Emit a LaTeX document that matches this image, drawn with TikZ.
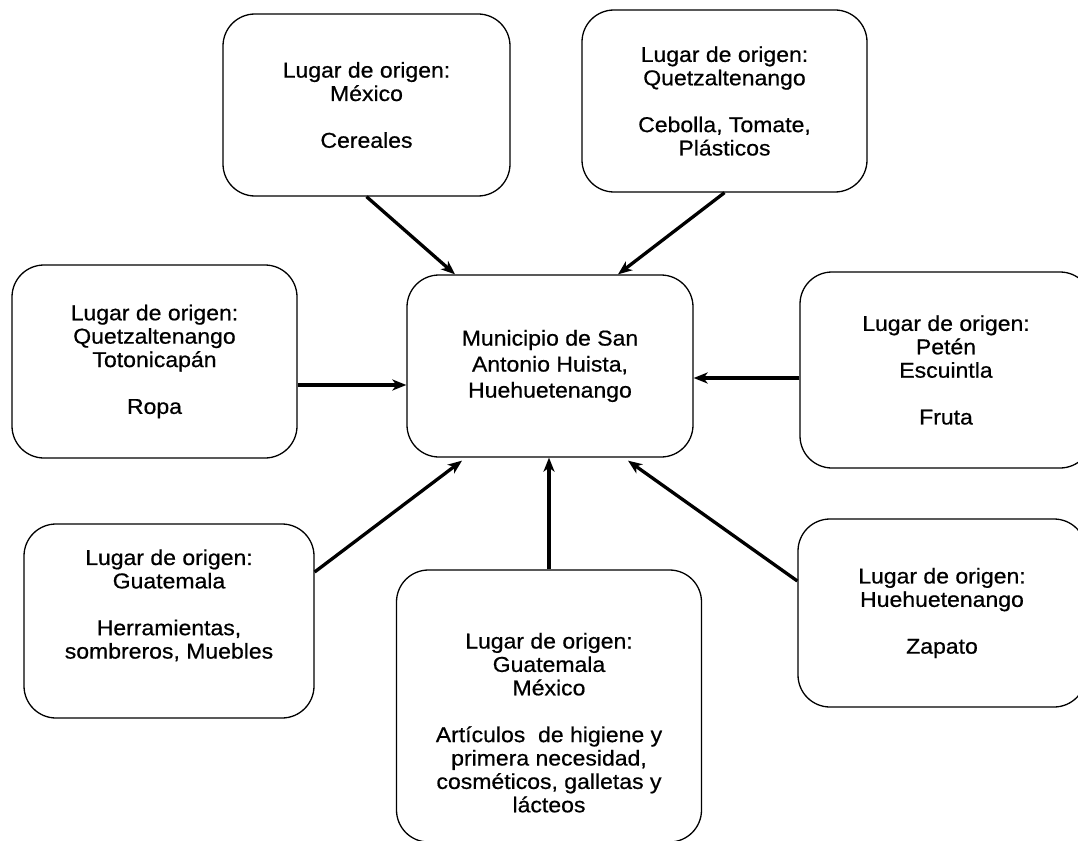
\documentclass[tikz,border=0pt]{standalone}
\usepackage{fontspec}
\setmainfont{Liberation Sans}[FakeStretch=1.07,FakeBold=0.6]
\usetikzlibrary{arrows.meta}
\begin{document}
\begin{tikzpicture}[x=1pt,y=-1pt,
  box/.style={draw, line width=1.3pt, rounded corners=32pt, align=center, inner sep=0pt,
    font=\fontsize{21.5}{23.4}\selectfont},
  arr/.style={line width=3.3pt, -{Stealth[length=14pt,width=11pt,inset=4pt]}}]
\useasboundingbox (0,0) rectangle (1078,840);
\fill[white] (0,0) rectangle (1078,840);

\node[box, minimum width=287pt, minimum height=182pt] (A) at (366.5,105)
  {Lugar de origen:\\México\\[23.4pt]Cereales};
\node[box, minimum width=285pt, minimum height=182pt] (B) at (724.5,101)
  {Lugar de origen:\\Quetzaltenango\\[23.4pt]Cebolla, Tomate,\\Plásticos};
\node[box, minimum width=285pt, minimum height=193pt] (C) at (154.5,361.5)
  {Lugar de origen:\\Quetzaltenango\\Totonicapán\\[23.4pt]Ropa};
\node[box, minimum width=286pt, minimum height=182pt, font=\fontsize{21.5}{26}\selectfont] (M) at (550,366)
  {Municipio de San\\Antonio Huista,\\Huehuetenango};
\node[box, minimum width=292pt, minimum height=196pt] (D) at (946,370)
  {Lugar de origen:\\Petén\\Escuintla\\[23.4pt]Fruta};
\node[box, minimum width=290pt, minimum height=194pt] (E) at (169,621)
  {Lugar de origen:\\Guatemala\\[23.4pt]Herramientas,\\sombreros, Muebles\rule[-34pt]{0pt}{40pt}};
\node[box, minimum width=288pt, minimum height=188pt] (F) at (942,613)
  {Lugar de origen:\\Huehuetenango\\[23.4pt]Zapato};
\node[box, minimum width=305pt, minimum height=272pt] (G) at (549,706)
  {\rule{0pt}{49pt}Lugar de origen:\\Guatemala\\México\\[23.4pt]Artículos~ de higiene y\\primera necesidad,\\cosméticos, galletas y\\lácteos};

\draw[arr] (A.south) -- ([xshift=-95pt]M.north);
\draw[arr] (B.south) -- ([xshift=68pt]M.north);
\draw[arr] ([yshift=-23.5pt]C.east) -- ([yshift=-19pt]M.west);
\draw[arr] ([yshift=-8pt]D.west) -- ([yshift=-12pt]M.east);
\draw[arr] ([yshift=49pt]E.east) -- ([xshift=-88pt,yshift=-3pt]M.south);
\draw[arr] ([yshift=32pt]F.west) -- ([xshift=78pt,yshift=-3pt]M.south);
\draw[arr] (G.north) -- (G.north |- M.south);
\end{tikzpicture}
\end{document}
